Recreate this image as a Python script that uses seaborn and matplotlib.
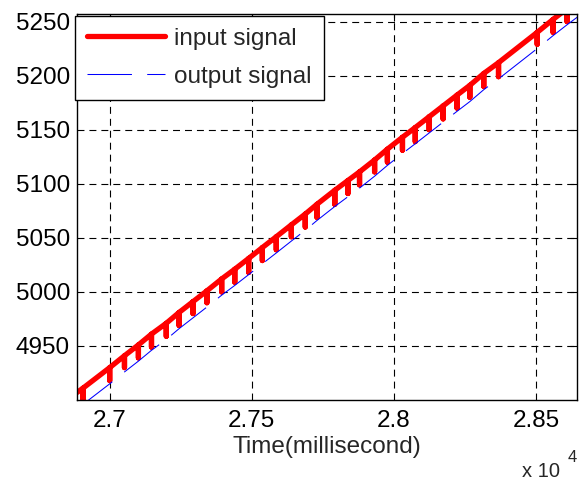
import numpy as np
import pandas as pd
import matplotlib
matplotlib.use("Agg")
import matplotlib.pyplot as plt
import seaborn as sns

# ---- data ----
tooth_time = [26906, 27000, 27052, 27101, 27147, 27199, 27244, 27293, 27342, 27394,
              27440, 27489, 27537, 27586, 27639, 27688, 27729, 27792, 27838, 27879,
              27932, 27977, 28030, 28075, 28124, 28173, 28222, 28267, 28316, 28368,
              28504, 28560, 28609]
tooth_base = [4911, 4930, 4941, 4951, 4961, 4971, 4981, 4991, 5001, 5012,
              5021, 5031, 5041, 5051, 5062, 5072, 5081, 5094, 5103, 5111,
              5122, 5132, 5143, 5152, 5162, 5172, 5182, 5191, 5202, 5212,
              5240, 5252, 5262]
tooth_depth = [12, 12, 11, 12, 12, 12, 12, 11, 11, 12,
               12, 13, 12, 12, 11, 12, 12, 13, 12, 12,
               11, 12, 12, 13, 12, 12, 12, 11, 12, 13,
               11, 12, 12]
input_start = (26885, 4907)
input_end = (28650, 5271)

output_time = [26885] + tooth_time + [28650]
output_value = [4892, 4896, 4915, 4926, 4936, 4946, 4956, 4966, 4976, 4986, 4997,
                5006, 5016, 5026, 5036, 5047, 5057, 5066, 5079, 5088, 5096,
                5107, 5117, 5128, 5137, 5147, 5157, 5167, 5176, 5187, 5197,
                5225, 5237, 5247, 5255]

xticks = [27000, 27500, 28000, 28500]
xtick_labels = ["2.7", "2.75", "2.8", "2.85"]
yticks = [4950, 5000, 5050, 5100, 5150, 5200, 5250]
legend_labels = ["input signal", "output signal"]
xlabel = "Time(millisecond)"

# ---- build input polyline (vertical dips at each tooth) ----
in_t = [input_start[0]]
in_v = [input_start[1]]
for t, b, d in zip(tooth_time, tooth_base, tooth_depth):
    in_t += [t, t, t]
    in_v += [b, b - d, b]
in_t.append(input_end[0])
in_v.append(input_end[1])

df_in = pd.DataFrame({"t": in_t, "v": in_v})
df_out = pd.DataFrame({"t": output_time, "v": output_value})

sns.set_style("white")
plt.rcParams["font.family"] = ["Liberation Sans", "DejaVu Sans"]
plt.rcParams["lines.scale_dashes"] = False

FS = 17.5
fig = plt.figure(figsize=(5.79, 4.82), dpi=100)
ax = fig.add_axes([0.133, 0.170, 0.864, 0.801])

sns.lineplot(data=df_in, x="t", y="v", sort=False, estimator=None, ax=ax,
             color="#ff0000", linewidth=3.8, label=legend_labels[0])
sns.lineplot(data=df_out, x="t", y="v", sort=False, estimator=None, ax=ax,
             color="#0000ff", linewidth=0.75, label=legend_labels[1])
ax.lines[1].set_linestyle((0, (32, 11)))

ax.set_xlim(26885, 28645)
ax.set_ylim(4900, 5257)
ax.set_xticks(xticks)
ax.set_xticklabels(xtick_labels)
ax.set_yticks(yticks)
ax.set_yticklabels([str(v) for v in yticks])
ax.tick_params(direction="in", length=5, width=0.8, labelsize=FS, colors="black",
               top=True, right=True)
ax.tick_params(axis="x", pad=7)
ax.tick_params(axis="y", pad=5)
ax.grid(True, color="black", linestyle=(0, (5, 3.6)), linewidth=0.8)
for s in ax.spines.values():
    s.set_color("black")
    s.set_linewidth(1.0)
ax.set_xlabel(xlabel, fontsize=FS, labelpad=3)
ax.set_ylabel("")

leg = ax.legend(loc="upper left", bbox_to_anchor=(-0.004, 0.996), borderaxespad=0,
                fontsize=FS, handlelength=3.2, handletextpad=0.38, labelspacing=0.65,
                borderpad=0.5, fancybox=False, framealpha=1, edgecolor="black")
leg.get_frame().set_linewidth(1.0)

fig.text(0.9016, 0.0104, "x 10", fontsize=14.5, ha="left", va="baseline")
fig.text(0.981, 0.0415, "4", fontsize=12, ha="left", va="baseline")

fig.savefig("out.png", dpi=100)
